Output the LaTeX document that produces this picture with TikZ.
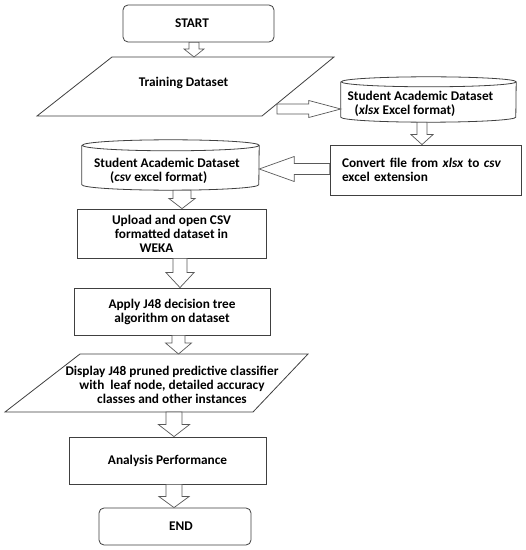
\documentclass[tikz,border=0pt]{standalone}
\usepackage{fontspec}
\setmainfont{Carlito}
\usetikzlibrary{calc}
\newcommand\txtfont{\fontsize{13.3}{14}\bfseries\selectfont}
\tikzset{
  line/.style={draw=black!75, line width=0.8pt},
  box/.style={line, fill=white, inner sep=0pt, align=center, font=\txtfont},
  term/.style={box, rounded corners=5pt},
  cylbox/.style={inner sep=0pt, draw=none},
  txt/.style={inner sep=0pt, font=\txtfont},
  harrow/.style={draw=black!65, line width=0.7pt, fill=white, line join=miter},
}
% hollow arrows: #1 start, #2 target, #3 shaft half width, #4 head half width, #5 head length
\newcommand\adown[5]{\draw[harrow] let \p1=#1, \p2=#2 in
  (\x1-#3pt,\y1) -- (\x1-#3pt,\y2+#5pt) -- (\x1-#4pt,\y2+#5pt) -- (\x1,\y2)
  -- (\x1+#4pt,\y2+#5pt) -- (\x1+#3pt,\y2+#5pt) -- (\x1+#3pt,\y1) -- cycle;}
\newcommand\aright[5]{\draw[harrow] let \p1=#1, \p2=#2 in
  (\x1,\y1-#3pt) -- (\x2-#5pt,\y1-#3pt) -- (\x2-#5pt,\y1-#4pt) -- (\x2,\y1)
  -- (\x2-#5pt,\y1+#4pt) -- (\x2-#5pt,\y1+#3pt) -- (\x1,\y1+#3pt) -- cycle;}
\newcommand\aleft[5]{\draw[harrow] let \p1=#1, \p2=#2 in
  (\x1,\y1-#3pt) -- (\x2+#5pt,\y1-#3pt) -- (\x2+#5pt,\y1-#4pt) -- (\x2,\y1)
  -- (\x2+#5pt,\y1+#4pt) -- (\x2+#5pt,\y1+#3pt) -- (\x1,\y1+#3pt) -- cycle;}
% cylinder outline round a named node: #1 node, #2 x radius, #3 y radius
\newcommand\cylshape[3]{\draw[line]
  ([yshift=-#3pt]#1.north west) -- ([yshift=#3pt]#1.south west)
  arc[start angle=180,end angle=360,x radius=#2pt,y radius=#3pt]
  -- ([yshift=-#3pt]#1.north east)
  arc[start angle=0,end angle=180,x radius=#2pt,y radius=#3pt]
  arc[start angle=180,end angle=360,x radius=#2pt,y radius=#3pt];}
\begin{document}
\begin{tikzpicture}[x=1pt,y=1pt]
\useasboundingbox (0,0) rectangle (526,550);
\fill[white] (0,0) rectangle (526,550);

% START
\node[term, minimum width=151pt, minimum height=37pt] (start) at (198.5,526.5) {START\hspace*{13pt}};

% Training Dataset parallelogram
\coordinate (trTL) at (112,493);
\coordinate (trTR) at (334,493);
\coordinate (trBR) at (262,434);
\coordinate (trBL) at (37,434);
\draw[line] (trTL) -- (trTR) -- (trBR) -- (trBL) -- cycle;
\node[txt] (train) at (183.5,467) {Training Dataset};

% xlsx cylinder
\node[cylbox, minimum width=175pt, minimum height=45pt] (xlsx) at (428.5,450.5) {};
\cylshape{xlsx}{87.5}{5}
\node[txt, align=left, anchor=west] (xlsxtxt) at (347.5,446.5)
  {Student Academic Dataset\\\hspace*{7pt}(\textit{xlsx} Excel format)};

% Convert box
\node[box, minimum width=191pt, minimum height=50pt, text width=167pt, align=left] (conv) at (425.5,380)
  {Convert file from \textit{xlsx} to \textit{csv}\\excel extension};

% csv cylinder
\node[cylbox, minimum width=177pt, minimum height=50pt] (csv) at (170.5,385) {};
\cylshape{csv}{88.5}{5.5}
\node[txt, align=left, anchor=west] (csvtxt) at (94,379)
  {Student Academic Dataset\\\hspace*{16pt}(\textit{csv} excel format)};

% Upload box
\node[box, minimum width=189pt, minimum height=49pt] (upload) at (171.5,316.5)
  {Upload and open CSV\\formatted dataset in\\WEKA\hspace*{30pt}};

% Apply box
\node[box, minimum width=196pt, minimum height=47pt] (apply) at (172,238.5)
  {Apply J48 decision tree\\algorithm on dataset};

% Display parallelogram
\coordinate (dsTL) at (80,196);
\coordinate (dsTR) at (308,196);
\coordinate (dsBR) at (253,138);
\coordinate (dsBL) at (5,138);
\draw[line] (dsTL) -- (dsTR) -- (dsBR) -- (dsBL) -- cycle;
\node[txt, align=center] (disp) at (172,165)
  {Display J48 pruned predictive classifier\\with~ leaf node, detailed accuracy\\classes and other instances};

% Analysis box
\node[box, minimum width=197pt, minimum height=47pt] (analysis) at (167.5,89.5) {Analysis Performance};

% END
\node[term, minimum width=152pt, minimum height=37pt] (endn) at (175,23.5) {\hspace*{12pt}END};

% connectors
\coordinate (a2s) at (277,441);
\coordinate (a8s) at (174,138);
\adown{([xshift=-4.5pt]start.south)}{(trTL)}{5}{10}{8}
\aright{(a2s)}{(xlsx.west)}{5}{8.5}{32}
\adown{([xshift=-6.5pt]xlsx.south)}{(conv.north)}{5}{11}{10}
\aleft{([yshift=1pt]conv.west)}{(csv.east)}{5.5}{12.5}{35}
\adown{([xshift=11.5pt]csv.south)}{(upload.north)}{9}{13}{10}
\adown{([xshift=8.5pt]upload.south)}{(apply.north)}{7}{14}{15}
\adown{([xshift=6.5pt]apply.south)}{(dsTL)}{6.5}{13}{11}
\adown{(a8s)}{(analysis.north)}{8}{15.5}{12}
\adown{([xshift=6.5pt]analysis.south)}{(endn.north)}{8}{15}{11}
\end{tikzpicture}
\end{document}
